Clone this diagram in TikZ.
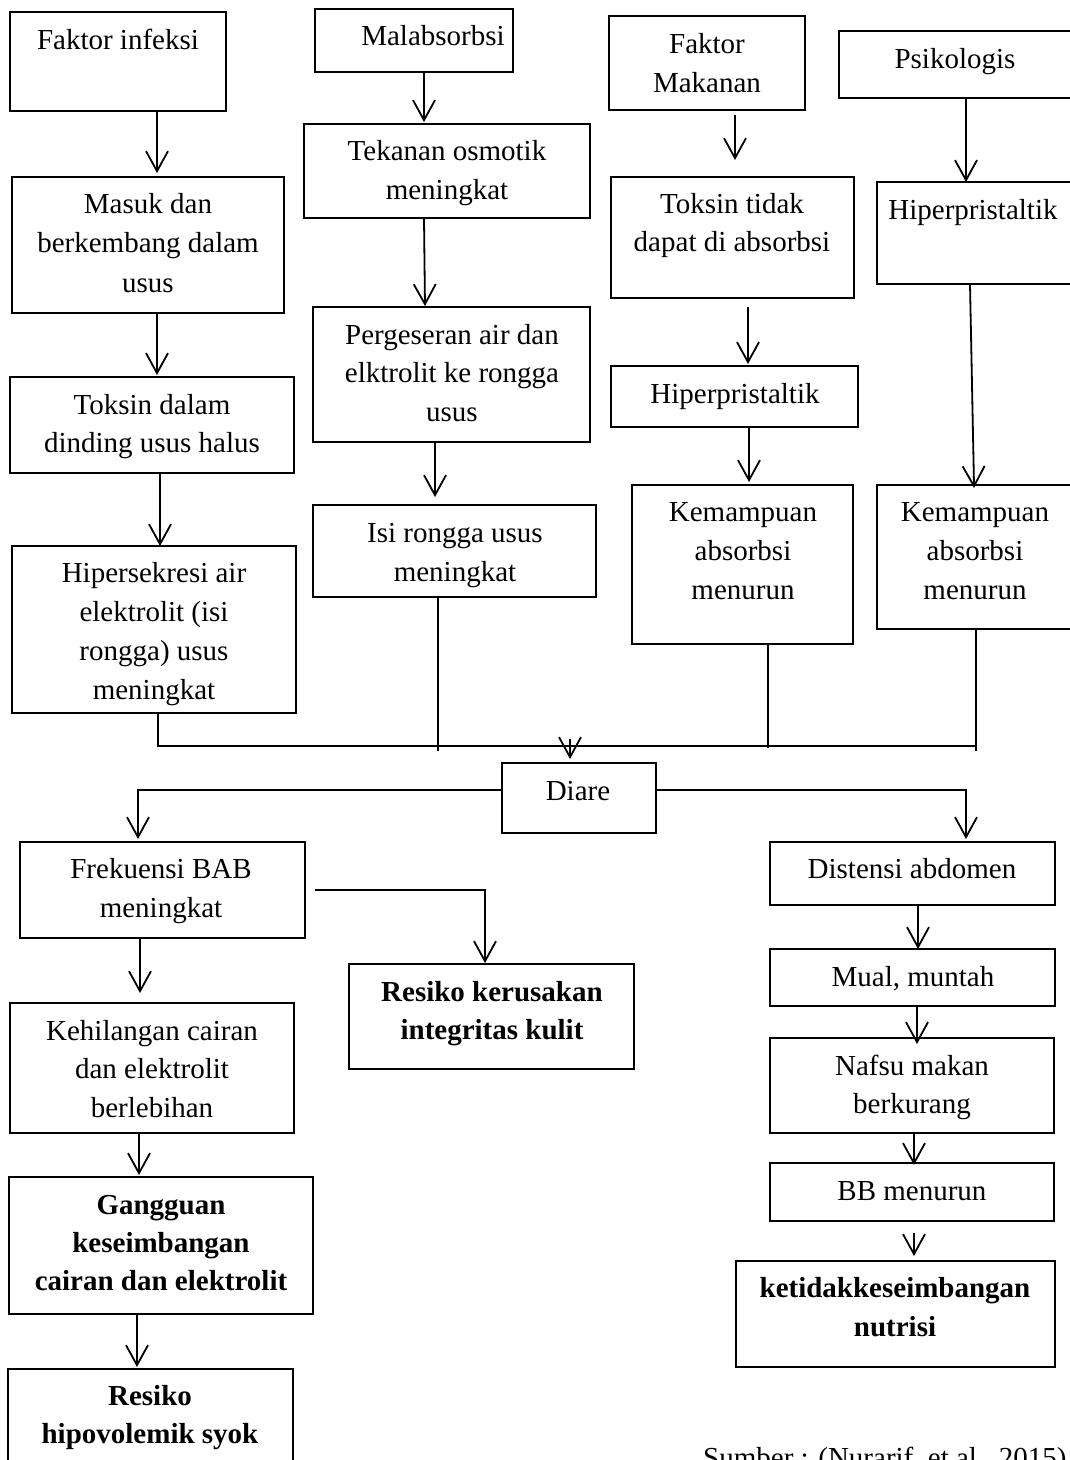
\documentclass[tikz,border=0pt]{standalone}
\usepackage{fontspec}
\setmainfont{Liberation Serif}
\usetikzlibrary{arrows.meta}
\newcommand\mkbox[5]{\node[boxs, minimum width={#4-#2}, minimum height={#5-#3}, anchor=north west] (#1) at (#2,#3) {};}
\begin{document}
\begin{tikzpicture}[x=1pt,y=-1pt,
  boxs/.style={draw, line width=1.3pt, inner sep=0pt, outer sep=0pt},
  txt/.style={inner sep=0pt, anchor=base, text width=340pt, align=flush center, font={\fontsize{29}{#1}\selectfont}},
  txt/.default=39,
  txtb/.style={inner sep=0pt, anchor=base, text width=340pt, align=flush center, font={\fontsize{29}{#1}\selectfont\bfseries}},
  txtb/.default=38,
  arr/.style={line width=1.8pt, -{Straight Barb[length=20pt,width=22pt,line width=1.8pt]}},
  coll/.style={line width=1.8pt},
  vcoll/.style={line width=1.3pt}]
\useasboundingbox (0,0) rectangle (1069,1460);
% ---- boxes ----
\mkbox{fi}{10}{12}{226}{111}
\mkbox{mb}{12}{177}{284}{313}
\mkbox{tk}{10}{377}{294}{473}
\mkbox{hs}{12}{546}{296}{713}
\mkbox{mal}{315}{9}{513}{72}
\mkbox{tek}{304}{124}{590}{218}
\mkbox{per}{313}{307}{590}{442}
\mkbox{isi}{313}{505}{596}{597}
\mkbox{fm}{609}{16}{805}{110}
\mkbox{ttd}{611}{177}{854}{298}
\mkbox{hp}{611}{366}{858}{427}
\mkbox{km}{632}{485}{853}{644}
\mkbox{psi}{839}{31}{1080}{98}
\mkbox{hr}{877}{182}{1080}{284}
\mkbox{kr}{877}{485}{1080}{629}
\mkbox{diare}{502}{763}{656}{833}
\mkbox{fb}{20}{842}{305}{938}
\mkbox{ds}{770}{842}{1055}{905}
\mkbox{rk}{349}{964}{634}{1069}
\mkbox{kc}{10}{1003}{294}{1133}
\mkbox{gg}{9}{1177}{313}{1314}
\mkbox{rh}{8}{1369}{293}{1480}
\mkbox{mu}{770}{949}{1055}{1006}
\mkbox{nm}{770}{1038}{1054}{1133}
\mkbox{bb}{770}{1163}{1054}{1221}
\mkbox{kt}{736}{1261}{1055}{1367}
% ---- texts ----
\node[txt] (fi-t) at (118,49) {Faktor infeksi};
\node[txt=39.5] (mb-t) at (148,213) {Masuk dan\\berkembang dalam\\usus};
\node[txt=38] (tk-t) at (152,414) {Toksin dalam\\dinding usus halus};
\node[txt] (hs-t) at (154,582) {Hipersekresi air\\elektrolit (isi\\rongga) usus\\meningkat};
\node[txt] (mal-t) at (433,45) {Malabsorbsi};
\node[txt] (tek-t) at (447,160) {Tekanan osmotik\\meningkat};
\node[txt=38.5] (per-t) at (452,344) {Pergeseran air dan\\elktrolit ke rongga\\usus};
\node[txt] (isi-t) at (455,542) {Isi rongga usus\\meningkat};
\node[txt] (fm-t) at (707,53) {Faktor\\Makanan};
\node[txt=38] (ttd-t) at (732,213) {Toksin tidak\\dapat di absorbsi};
\node[txt] (hp-t) at (735,403) {Hiperpristaltik};
\node[txt] (km-t) at (743,521) {Kemampuan\\absorbsi\\menurun};
\node[txt] (psi-t) at (955,68) {Psikologis};
\node[txt] (hr-t) at (973,219) {Hiperpristaltik};
\node[txt] (kr-t) at (975,521) {Kemampuan\\absorbsi\\menurun};
\node[txt] (diare-t) at (578,800) {Diare};
\node[txt] (fb-t) at (161,878) {Frekuensi BAB\\meningkat};
\node[txt] (ds-t) at (912,878) {Distensi abdomen};
\node[txtb] (rk-t) at (492,1001) {Resiko kerusakan\\integritas kulit};
\node[txt=38.5] (kc-t) at (152,1040) {Kehilangan cairan\\dan elektrolit\\berlebihan};
\node[txtb] (gg-t) at (161,1214) {Gangguan\\keseimbangan\\cairan dan elektrolit};
\node[txtb] (rh-t) at (150,1405) {Resiko\\hipovolemik syok};
\node[txt] (mu-t) at (913,986) {Mual, muntah};
\node[txt=38] (nm-t) at (912,1075) {Nafsu makan\\berkurang};
\node[txt] (bb-t) at (912,1200) {BB menurun};
\node[txtb=39] (kt-t) at (895,1297) {ketidakkeseimbangan\\nutrisi};
\node[inner sep=0pt, anchor=base west, font={\fontsize{29}{39}\selectfont}] (src) at (703,1467) {Sumber : (Nurarif, et al., 2015)};
% ---- arrows ----
\draw[arr, shorten >=4pt] (157,0 |- fi.south) -- (157,0 |- mb.north);
\draw[arr, shorten >=2pt] (157,0 |- mb.south) -- (157,0 |- tk.north);
\draw[arr] (160,0 |- tk.south) -- (160,0 |- hs.north);
\draw[arr, shorten >=2pt] (424,0 |- mal.south) -- (424,0 |- tek.north);
\draw[arr, shorten >=1pt] (424,0 |- tek.south) -- (425,0 |- per.north);
\draw[arr, shorten >=8pt] (435,0 |- per.south) -- (435,0 |- isi.north);
\draw[arr, shorten <=5pt, shorten >=17pt] (735,0 |- fm.south) -- (735,0 |- ttd.north);
\draw[arr, shorten <=9pt, shorten >=2pt] (748,0 |- ttd.south) -- (748,0 |- hp.north);
\draw[arr, shorten >=3pt] (749,0 |- hp.south) -- (749,0 |- km.north);
\draw[arr] (966,0 |- psi.south) -- (966,0 |- hr.north);
\draw[arr, shorten >=-3pt] (970,0 |- hr.south) -- (974,0 |- kr.north);
% ---- collector ----
\coordinate (jn) at (570,746);
\draw[coll] (158,0 |- hs.south) |- (976,746);
\draw[vcoll] (438,0 |- isi.south) -- (438,751);
\draw[vcoll] (768,0 |- km.south) -- (768,748);
\draw[vcoll] (976,0 |- kr.south) -- (976,751);
\draw[arr, shorten >=4pt] ([yshift=7pt]jn) -- (570,0 |- diare.north);
% ---- diare branches ----
\draw[arr, shorten >=3pt] ([yshift=8pt]diare.west) -| (138,0 |- fb.north);
\draw[arr, shorten >=3pt] ([yshift=8pt]diare.east) -| (966,0 |- ds.north);
\draw[arr, shorten >=1pt] ([xshift=10pt]fb.east) -| (485,0 |- rk.north);
\draw[arr, shorten >=10pt] (140,0 |- fb.south) -- (140,0 |- kc.north);
\draw[arr, shorten >=2pt] (139,0 |- kc.south) -- (139,0 |- gg.north);
\draw[arr, shorten >=2pt] (137,0 |- gg.south) -- (137,0 |- rh.north);
\draw[arr] (918,0 |- ds.south) -- (918,0 |- mu.north);
\draw[arr, shorten >=-6pt] (917,0 |- mu.south) -- (917,0 |- nm.north);
\draw[arr, shorten >=-2pt] (914,0 |- nm.south) -- (914,0 |- bb.north);
\draw[arr, shorten <=12pt, shorten >=5pt] (914,0 |- bb.south) -- (914,0 |- kt.north);
\end{tikzpicture}
\end{document}
